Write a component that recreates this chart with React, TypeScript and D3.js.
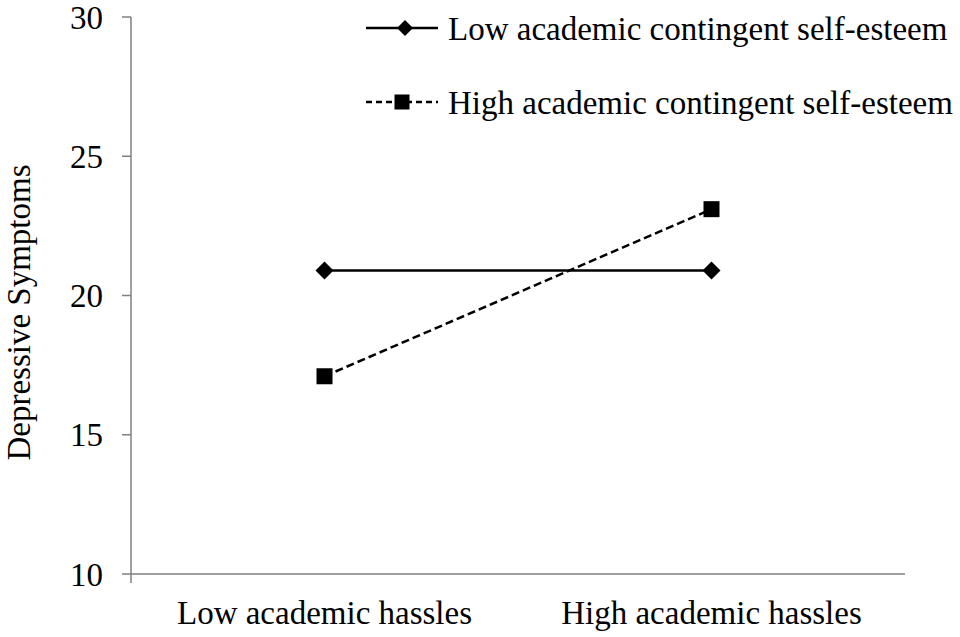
import React from 'react';
import * as d3 from 'd3';

const categories = ['Low academic hassles', 'High academic hassles'];
const lowContingent = [20.9, 20.9];
const highContingent = [17.1, 23.1];
const yTicks = [10, 15, 20, 25, 30];
const seriesNames = ['Low academic contingent self-esteem', 'High academic contingent self-esteem'];

export default function App() {
    const width = 960, height = 637;
    const margin = { top: 17, right: 55, bottom: 63, left: 131 };
    const font = '"Liberation Serif", "Times New Roman", serif';
    const fs = 33;

    const x = d3.scaleBand().domain(categories).range([margin.left, width - margin.right]);
    const y = d3.scaleLinear().domain([10, 30]).range([height - margin.bottom, margin.top]);
    const cx = (c: string) => (x(c) ?? 0) + x.bandwidth() / 2;

    const line = d3.line<[string, number]>().x(d => cx(d[0])).y(d => y(d[1]));
    const lowPts = categories.map((c, i) => [c, lowContingent[i]] as [string, number]);
    const highPts = categories.map((c, i) => [c, highContingent[i]] as [string, number]);

    const diamond = (px: number, py: number, r = 9) =>
        `M${px},${py - r}L${px + r},${py}L${px},${py + r}L${px - r},${py}Z`;

    const axisColor = '#808080';
    const y0 = y(10);

    // legend
    const legX = 366, legW = 72;
    const legY = [28, 102];

    return (
        <svg width={width} height={height} style={{ position: 'absolute', left: 0, top: 0, background: '#fff' }}>
            {/* y axis */}
            <line x1={margin.left} x2={margin.left} y1={y(30)} y2={y0 + 9} stroke={axisColor} strokeWidth={1.5} />
            {yTicks.map(t => (
                <g key={t}>
                    <line x1={margin.left - 9} x2={margin.left} y1={y(t)} y2={y(t)} stroke={axisColor} strokeWidth={1.5} />
                    <text x={103} y={y(t)} dy="0.35em" textAnchor="end" fontFamily={font} fontSize={fs} fill="#000">{t}</text>
                </g>
            ))}
            {/* x axis */}
            <line x1={margin.left} x2={width - margin.right} y1={y0} y2={y0} stroke={axisColor} strokeWidth={1.5} />
            {categories.map(c => (
                <text key={c} x={cx(c)} y={y0 + 50} textAnchor="middle" fontFamily={font} fontSize={fs} fill="#000">{c}</text>
            ))}
            <text transform={`translate(30, ${(y(30) + y0) / 2 + 17}) rotate(-90)`} textAnchor="middle"
                fontFamily={font} fontSize={fs} fill="#000">Depressive Symptoms</text>

            {/* series */}
            <path d={line(lowPts) ?? ''} fill="none" stroke="#000" strokeWidth={2.5} />
            {lowPts.map((p, i) => <path key={i} d={diamond(cx(p[0]), y(p[1]))} fill="#000" />)}
            <path d={line(highPts) ?? ''} fill="none" stroke="#000" strokeWidth={2.5} strokeDasharray="8,4" />
            {highPts.map((p, i) => (
                <rect key={i} x={cx(p[0]) - 8} y={y(p[1]) - 8} width={16} height={16} fill="#000" />
            ))}

            {/* legend */}
            <line x1={legX} x2={legX + legW} y1={legY[0]} y2={legY[0]} stroke="#000" strokeWidth={2.5} />
            <path d={diamond(legX + legW / 2 + 3, legY[0], 8)} fill="#000" />
            <text x={448} y={legY[0]} dy="0.35em" fontFamily={font} fontSize={fs} fill="#000">{seriesNames[0]}</text>
            <line x1={legX} x2={legX + legW} y1={legY[1]} y2={legY[1]} stroke="#000" strokeWidth={2.5} strokeDasharray="6,4" />
            <rect x={legX + legW / 2 - 7.5} y={legY[1] - 7.5} width={15} height={15} fill="#000" />
            <text x={448} y={legY[1]} dy="0.35em" fontFamily={font} fontSize={fs} fill="#000">{seriesNames[1]}</text>
        </svg>
    );
}
